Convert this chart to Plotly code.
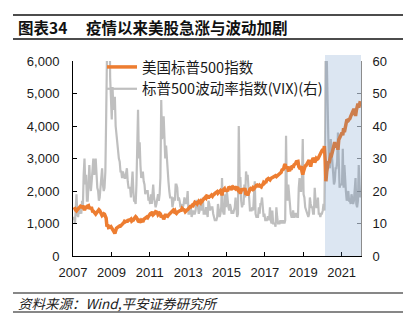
import plotly.graph_objects as go

# ---------------- data (semi-monthly readings, 2007-01 .. 2021-12) ----------------
years = list(range(2007, 2022))
dates = [f"{y}-{m:02d}-{d:02d}" for y in years for m in range(1, 13) for d in (8, 23)]

sp500 = [
    # 2007
    1430, 1438, 1456, 1407, 1387, 1421, 1470, 1482, 1505, 1531, 1522, 1503,
    1549, 1455, 1411, 1474, 1484, 1527, 1548, 1549, 1451, 1481, 1468, 1468,
    # 2008
    1380, 1379, 1349, 1331, 1288, 1323, 1370, 1386, 1425, 1400, 1360, 1280,
    1245, 1267, 1298, 1283, 1193, 1166, 907, 969, 873, 896, 889, 903,
    # 2009
    843, 826, 789, 735, 690, 798, 852, 873, 893, 919, 924, 919,
    940, 987, 1004, 1021, 1068, 1057, 1093, 1036, 1093, 1096, 1107, 1115,
    # 2010
    1136, 1074, 1094, 1104, 1150, 1169, 1211, 1187, 1135, 1089, 1096, 1031,
    1065, 1102, 1080, 1049, 1125, 1141, 1176, 1183, 1199, 1181, 1241, 1258,
    # 2011
    1293, 1286, 1330, 1327, 1273, 1326, 1320, 1364, 1338, 1345, 1268, 1321,
    1316, 1292, 1193, 1219, 1216, 1131, 1224, 1253, 1251, 1247, 1225, 1258,
    # 2012
    1289, 1312, 1351, 1366, 1395, 1408, 1370, 1398, 1330, 1310, 1342, 1362,
    1353, 1379, 1405, 1407, 1465, 1441, 1433, 1412, 1360, 1416, 1413, 1426,
    # 2013
    1472, 1498, 1520, 1515, 1560, 1569, 1552, 1598, 1650, 1631, 1639, 1606,
    1680, 1686, 1655, 1633, 1697, 1682, 1721, 1757, 1791, 1806, 1781, 1848,
    # 2014
    1838, 1783, 1828, 1859, 1846, 1872, 1842, 1884, 1888, 1924, 1937, 1960,
    1981, 1931, 1955, 2003, 2011, 1972, 1862, 2018, 2039, 2068, 1989, 2059,
    # 2015
    2019, 1995, 2097, 2105, 2081, 2068, 2106, 2086, 2122, 2107, 2097, 2063,
    2108, 2104, 2092, 1972, 1996, 1920, 2024, 2079, 2023, 2080, 2043, 2044,
    # 2016
    1880, 1940, 1865, 1932, 2027, 2060, 2081, 2065, 2047, 2097, 2071, 2099,
    2162, 2174, 2184, 2171, 2125, 2168, 2140, 2126, 2180, 2199, 2262, 2239,
    # 2017
    2275, 2279, 2350, 2364, 2385, 2363, 2342, 2384, 2400, 2412, 2433, 2423,
    2460, 2470, 2444, 2472, 2500, 2519, 2561, 2575, 2578, 2648, 2676, 2674,
    # 2018
    2786, 2824, 2700, 2714, 2750, 2641, 2656, 2648, 2712, 2705, 2780, 2718,
    2800, 2816, 2840, 2902, 2905, 2914, 2750, 2712, 2730, 2760, 2600, 2507,
    # 2019
    2610, 2704, 2775, 2784, 2822, 2834, 2905, 2946, 2850, 2752, 2890, 2942,
    3014, 2980, 2880, 2926, 3000, 2977, 2990, 3038, 3120, 3141, 3190, 3231,
    # 2020
    3290, 3226, 3380, 2954, 2300, 2585, 2800, 2912, 2860, 3044, 3110, 3100,
    3215, 3271, 3380, 3500, 3385, 3363, 3480, 3270, 3580, 3622, 3690, 3756,
    # 2021
    3795, 3714, 3930, 3811, 3960, 3973, 4170, 4181, 4170, 4204, 4230, 4298,
    4370, 4395, 4470, 4523, 4470, 4308, 4480, 4605, 4690, 4567, 4670, 4766,
]

vix = [
    # 2007
    11, 12, 10, 18, 19, 13, 12, 14, 13, 15, 13, 17,
    15, 25, 30, 22, 25, 17, 17, 22, 28, 22, 20, 23,
    # 2008
    27, 30, 25, 26, 30, 25, 21, 20, 17, 18, 21, 24,
    27, 22, 20, 21, 26, 42, 65, 80, 60, 80, 55, 44,
    # 2009
    42, 52, 45, 47, 49, 40, 37, 36, 31, 30, 29, 26,
    26, 24, 26, 25, 24, 24, 25, 27, 23, 21, 21, 21,
    # 2010
    18, 25, 26, 20, 17, 17, 16, 22, 30, 45, 30, 35,
    28, 24, 25, 26, 23, 22, 19, 20, 20, 20, 17, 18,
    # 2011
    16, 19, 16, 20, 22, 18, 16, 15, 16, 17, 19, 17,
    19, 24, 48, 36, 38, 43, 32, 30, 34, 29, 24, 23,
    # 2012
    20, 18, 18, 18, 15, 16, 18, 17, 22, 22, 21, 17,
    18, 17, 15, 16, 15, 15, 16, 18, 17, 16, 17, 20,
    # 2013
    13, 13, 14, 15, 12, 13, 14, 13, 13, 14, 17, 17,
    14, 13, 14, 16, 15, 14, 18, 13, 13, 13, 15, 13,
    # 2014
    12, 17, 16, 14, 15, 15, 15, 13, 12, 11, 11, 11,
    12, 16, 14, 12, 13, 15, 24, 14, 13, 13, 19, 15,
    # 2015
    20, 17, 15, 14, 16, 15, 13, 14, 13, 14, 15, 18,
    13, 12, 13, 40, 24, 24, 17, 15, 16, 16, 22, 18,
    # 2016
    26, 24, 25, 20, 16, 14, 14, 14, 15, 14, 19, 23,
    13, 12, 12, 12, 15, 13, 16, 16, 18, 13, 12, 13,
    # 2017
    11, 11, 11, 12, 12, 11, 15, 11, 10, 14, 10, 10,
    10, 9, 15, 12, 10, 10, 10, 11, 10, 11, 10, 11,
    # 2018
    10, 11, 37, 19, 17, 22, 17, 16, 13, 12, 12, 14,
    12, 12, 13, 13, 12, 12, 21, 24, 20, 20, 24, 36,
    # 2019
    19, 18, 15, 14, 14, 13, 12, 13, 18, 16, 15, 15,
    13, 13, 21, 17, 15, 15, 18, 13, 13, 12, 13, 13,
    # 2020
    14, 16, 14, 40, 75, 62, 42, 36, 28, 27, 36, 32,
    27, 25, 22, 23, 27, 27, 29, 38, 23, 21, 22, 22,
    # 2021
    22, 33, 21, 28, 21, 20, 17, 18, 20, 17, 17, 16,
    19, 18, 16, 17, 22, 24, 16, 15, 17, 28, 22, 18,
]

name_sp = "美国标普500指数"
name_vix = "标普500波动率指数(VIX)(右)"
title_num = "图表34"
title_txt = "疫情以来美股急涨与波动加剧"
source_txt = "资料来源：Wind,平安证券研究所"

CJK = "Noto Sans CJK SC"
LAT = "Liberation Sans, Arial, sans-serif"

# ---------------- geometry helpers (pixel -> paper) ----------------
ML, MR, MT, MB = 73, 51, 61, 76
W, H = 412, 332
PW, PH = W - ML - MR, H - MT - MB


def px(x):
    return (x - ML) / PW


def py(y):
    return (H - MB - y) / PH


fig = go.Figure()
fig.add_trace(go.Scatter(
    x=dates, y=sp500, name=name_sp, mode="lines", yaxis="y2",
    line=dict(color="#ED7D31", width=3.5), legendgroup="a",
))
fig.add_trace(go.Scatter(
    x=dates, y=vix, name=name_vix, mode="lines", yaxis="y",
    line=dict(color="#BFBFBF", width=2.2), legendgroup="b",
))

tickfont = dict(family=LAT, size=13, color="#1a1a1a")

fig.update_layout(
    width=W, height=H,
    margin=dict(l=ML, r=MR, t=MT, b=MB, pad=0),
    paper_bgcolor="white", plot_bgcolor="white",
    showlegend=True,
    legend=dict(
        x=px(102), y=py(51), xanchor="left", yanchor="top",
        bgcolor="rgba(0,0,0,0)", borderwidth=0,
        font=dict(family=CJK, size=14.5, color="#1a1a1a"),
        tracegroupgap=0, traceorder="grouped", itemwidth=30,
    ),
    xaxis=dict(
        type="date", range=["2007-01-01", "2022-01-05"],
        tick0="2007-01-01", dtick="M24", tickformat="%Y",
        ticks="inside", ticklen=4, tickcolor="#000",
        showline=True, linecolor="#000", linewidth=1,
        showgrid=False, zeroline=False, tickfont=tickfont,
        ticklabelstandoff=4,
    ),
    yaxis=dict(
        side="right", range=[0, 60], dtick=10,
        ticks="inside", ticklen=4, tickcolor="#8c8c8c",
        showline=True, linecolor="#8c8c8c", linewidth=1,
        showgrid=False, zeroline=False, tickfont=tickfont,
        ticklabelstandoff=8,
    ),
    yaxis2=dict(
        overlaying="y", side="left", range=[0, 6000], dtick=1000,
        tickformat=",", ticks="inside", ticklen=4, tickcolor="#000",
        showline=True, linecolor="#000", linewidth=1,
        showgrid=False, zeroline=False, tickfont=tickfont,
        ticklabelstandoff=10,
    ),
)

shapes = [
    # pandemic shading
    dict(type="rect", xref="x", yref="paper", x0="2020-02-20", x1="2022-01-05",
         y0=0, y1=py(55), fillcolor="rgba(79,129,189,0.2)", line=dict(width=0),
         layer="above"),
    # title rules
    dict(type="line", xref="paper", yref="paper", x0=px(13), x1=px(403),
         y0=py(15), y1=py(15), line=dict(color="#111", width=1.5)),
    dict(type="line", xref="paper", yref="paper", x0=px(13), x1=px(403),
         y0=py(39), y1=py(39), line=dict(color="#111", width=1.5)),
    # footer rules
    dict(type="line", xref="paper", yref="paper", x0=px(13), x1=px(403),
         y0=py(293), y1=py(293), line=dict(color="#111", width=1.2)),
    dict(type="line", xref="paper", yref="paper", x0=px(13), x1=px(403),
         y0=py(312), y1=py(312), line=dict(color="#111", width=1.2)),
]
fig.update_layout(shapes=shapes)

annotations = [
    dict(text=f"<b>{title_num}</b>", xref="paper", yref="paper", x=px(16), y=py(27),
         xanchor="left", yanchor="middle", showarrow=False,
         font=dict(family=CJK, size=15.5, color="#111")),
    dict(text=f"<b>{title_txt}</b>", xref="paper", yref="paper", x=px(84), y=py(27),
         xanchor="left", yanchor="middle", showarrow=False,
         font=dict(family=CJK, size=15.5, color="#111")),
    dict(text=source_txt, xref="paper", yref="paper", x=px(16), y=py(302.5),
         xanchor="left", yanchor="middle", showarrow=False,
         font=dict(family=CJK, size=13.5, color="#222", style="italic")),
]
fig.update_layout(annotations=annotations)

fig.write_html("out.html")
